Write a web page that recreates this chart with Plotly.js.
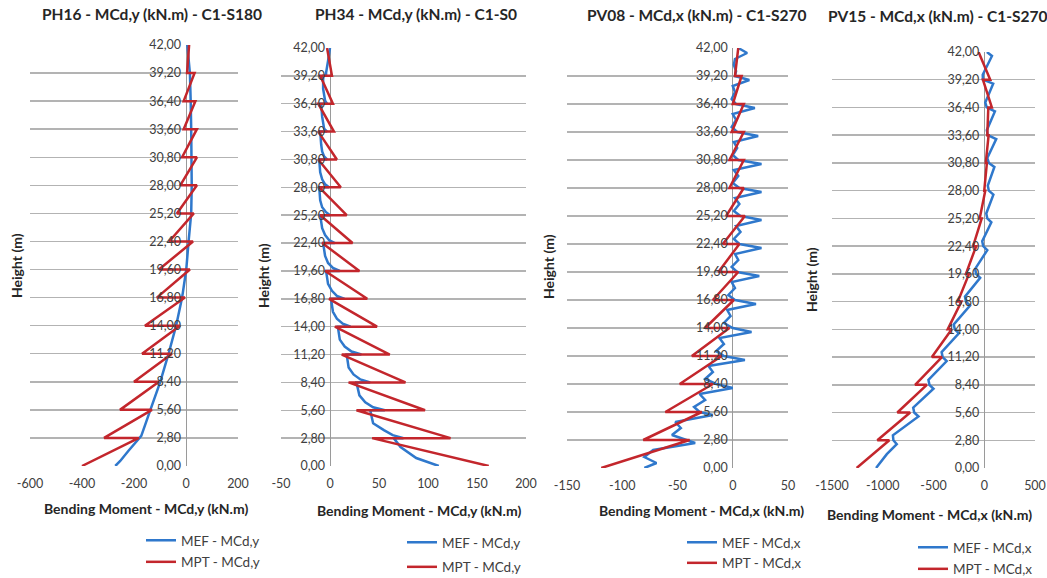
<!DOCTYPE html>
<html><head><meta charset="utf-8">
<script src="https://cdn.plot.ly/plotly-3.0.1.min.js"></script>
<style>html,body{margin:0;padding:0;background:#fff;} #chart{width:1047px;height:578px;}</style>
</head><body><div id="chart"></div>
<script>
// ---------- DATA ----------
const Y_TICKS = [0, 2.8, 5.6, 8.4, 11.2, 14, 16.8, 19.6, 22.4, 25.2, 28, 30.8, 33.6, 36.4, 39.2, 42];
const Y_LABELS = ["0,00","2,80","5,60","8,40","11,20","14,00","16,80","19,60","22,40","25,20","28,00","30,80","33,60","36,40","39,20","42,00"];
const X1_TICKS = [-600, -400, -200, 0, 200];
const X2_TICKS = [-50, 0, 50, 100, 150, 200];
const X3_TICKS = [-150, -100, -50, 0, 50];
const X4_TICKS = [-1500, -1000, -500, 0, 500];
const SERIES_Y = ["MEF - MCd,y", "MPT - MCd,y"];
const SERIES_X = ["MEF - MCd,x", "MPT - MCd,x"];

// MPT: sawtooth, two values at each floor (top of storey below, bottom of storey above)
const SAW_H = [0, 2.8, 2.8, 5.6, 5.6, 8.4, 8.4, 11.2, 11.2, 14, 14, 16.8, 16.8, 19.6, 19.6, 22.4, 22.4, 25.2, 25.2, 28, 28, 30.8, 30.8, 33.6, 33.6, 36.4, 36.4, 39.2, 39.2, 42];

const PH16_MPT = [-400, -181, -315, -131, -254, -104, -200, -54, -169, -23, -158, -4, -112, 15, -104, 27, -65, 30, -35, 42, -22, 42, -15, 42, -9, 36, -9, 33, 4, 12];
const PH16_MEF_H = [0, 0.5, 1.5, 2.6, 2.8, 3.0, 5.6, 8.4, 11.2, 14, 16.8, 19.6, 22.4, 25.2, 28, 30.8, 33.6, 36.4, 39.2, 42];
const PH16_MEF = [-272, -253, -222, -185, -176, -172, -137, -99, -67, -38, -15, 1, 10, 20, 22, 22, 20, 18, 15, 5];

const PH34_MPT = [162, 43, 123, 27, 97, 19, 77, 12, 61, 5, 48, -1, 38, -5, 30, -8, 23, -10, 17, -11, 11, -12, 7, -12, 4, -12, 3, -10, 2, -3];
const PH34_MEF_H = [0, 0.8, 1.9, 2.8,
  2.8, 3.1, 3.6, 4.3, 5.6,  5.6, 5.9, 6.4, 7.1, 8.4,  8.4, 8.7, 9.2, 9.9, 11.2,
  11.2, 11.5, 12, 12.7, 14,  14, 14.3, 14.8, 15.5, 16.8,  16.8, 17.1, 17.6, 18.3, 19.6,
  19.6, 19.9, 20.4, 21.1, 22.4,  22.4, 22.7, 23.2, 23.9, 25.2,  25.2, 25.5, 26, 26.7, 28,
  28, 28.3, 28.8, 29.5, 30.8,  30.8, 31.1, 31.6, 32.3, 33.6,  33.6, 33.9, 34.4, 35.1, 36.4,
  36.4, 36.7, 37.2, 37.9, 39.2,  39.2, 39.5, 40, 40.7, 42];
const PH34_MEF = [111, 88, 72, 65,
  75, 64, 55, 44, 41,  56, 44, 36, 30, 27,  41, 31, 24, 19, 17,
  32, 22, 15, 10, 8,  21, 13, 7, 3, 1,  15, 7, 2, -2, -4,
  10, 3, -2, -5, -7,  5, -1, -5, -8, -10,  0, -4, -8, -10, -11,
  -1, -5, -8, -10, -11,  -3, -6, -8, -9, -10,  -3, -6, -7, -8, -9,
  -3, -5, -6, -7, -7,  -4, -4, -3, -2, 0];

const PV08_MPT = [-119, -39, -81, -28, -61, -18, -48, -10, -37, -3, -25, 1, -18, 5, -13, 6, -9, 11, -6, 10, -3, 10, -3, 10, -1, 10, 0, 8, 2, 5];
const PV08_MEF_H = [0, 0.5, 1.1, 1.8, 2.5, 2.8,
  3.3, 4.0, 4.6, 5.3, 5.6,  6.1, 6.8, 7.4, 8.0, 8.4,  8.9, 9.6, 10.2, 10.8, 11.2,
  11.7, 12.4, 13.0, 13.6, 14.0,  14.5, 15.2, 15.8, 16.4, 16.8,  17.3, 18.0, 18.6, 19.2, 19.6,
  20.1, 20.8, 21.4, 22.0, 22.4,  22.9, 23.6, 24.2, 24.8, 25.2,  25.7, 26.4, 27.0, 27.6, 28.0,
  28.5, 29.2, 29.8, 30.4, 30.8,  31.3, 32.0, 32.6, 33.2, 33.6,  34.1, 34.8, 35.4, 36.0, 36.4,
  36.9, 37.6, 38.2, 38.8, 39.2,  39.7, 40.3, 40.9, 41.5, 42.0];
const PV08_MEF = [-80, -69, -80, -72, -34, -42,
  -55, -47, -52, -18, -30,  -35, -25, -30, 0, -15,  -25, -18, -22, 11, -8,
  -15, -8, -12, 17, 0,  -8, -2, -5, 21, 2,  -4, 2, -1, 24, 4,
  -1, 5, 2, 26, 6,  1, 7, 3, 26, 7,  1, 6, 2, 26, 6,
  0, 5, 1, 26, 5,  0, 4, 1, 23, 4,  -1, 3, 0, 20, 3,
  -1, 2, 0, 15, 2,  3, 1, 2, 13, 5];

const PV15_MPT = [-1257, -935, -1053, -730, -856, -566, -681, -417, -516, -320, -360, -225, -260, -150, -180, -80, -110, -25, -45, 10, 0, 26, 15, 43, 30, 40, 75, -13, 59, -56];
const PV15_MEF_H = [0, 1.4, 2.4, 2.8,
  3.3, 5.2, 5.6,  6.1, 8.0, 8.4,  8.9, 10.8, 11.2,  11.7, 13.6, 14,  14.5, 16.4, 16.8,
  17.3, 19.2, 19.6,  20.1, 22.0, 22.4,  22.9, 24.8, 25.2,  25.7, 27.6, 28,  28.5, 30.4, 30.8,
  31.3, 33.2, 33.6,  34.1, 36.0, 36.4,  36.9, 38.8, 39.2,  39.7, 41.6, 42];
const PV15_MEF = [-1066, -960, -862, -895,
  -900, -648, -690,  -700, -500, -540,  -550, -370, -410,  -420, -250, -290,  -300, -140, -180,
  -190, -40, -80,  -90, 30, -10,  -20, 70, 30,  20, 90, 45,  35, 100, 45,
  30, 118, 35,  25, 105, 25,  10, 88, -13,  -15, 76, 26];

// ---------- LAYOUT ----------
const W = 1047, H = 578;
const BLUE = '#2F78CC', RED = '#C3262C';
const FONT = 'Lato, "Open Sans", sans-serif';

const panels = [
  {title:'PH16 - MCd,y (kN.m) - C1-S180', xt:'Bending Moment - MCd,y (kN.m)', names:SERIES_Y,
   xr:[-600,200], ticks:X1_TICKS, px:[30,238], py:[466,45],
   mefH:PH16_MEF_H, mef:PH16_MEF, mpt:PH16_MPT,
   tPos:[40,14], xtPos:[42,509], htPos:[17,266], legPos:[141,525], gap:1},
  {title:'PH34 - MCd,y (kN.m) - C1-S0', xt:'Bending Moment - MCd,y (kN.m)', names:SERIES_Y,
   xr:[-50,200], ticks:X2_TICKS, px:[281,526], py:[466,48],
   mefH:PH34_MEF_H, mef:PH34_MEF, mpt:PH34_MPT,
   tPos:[313,14], xtPos:[315,510], htPos:[263,276], legPos:[402,527], gap:4},
  {title:'PV08 - MCd,x (kN.m) - C1-S270', xt:'Bending Moment - MCd,x (kN.m)', names:SERIES_X,
   xr:[-150,50], ticks:X3_TICKS, px:[567,788], py:[468,48],
   mefH:PV08_MEF_H, mef:PV08_MEF, mpt:PV08_MPT,
   tPos:[585,15], xtPos:[597,510], htPos:[548,267], legPos:[682,527], gap:0},
  {title:'PV15 - MCd,x (kN.m) - C1-S270', xt:'Bending Moment - MCd,x (kN.m)', names:SERIES_X,
   xr:[-1500,500], ticks:X4_TICKS, px:[832,1035], py:[468,52],
   mefH:PV15_MEF_H, mef:PV15_MEF, mpt:PV15_MPT,
   tPos:[826,16], xtPos:[825,514], htPos:[811,280], legPos:[913,532], gap:1}
];

const data = [];
const layout = {
  width: W, height: H, margin: {l:0, r:0, t:0, b:0, autoexpand:false},
  paper_bgcolor: '#fff', plot_bgcolor: 'rgba(0,0,0,0)',
  font: {family: FONT, color: '#404040', size: 11},
  showlegend: true, annotations: []
};

panels.forEach((p, i) => {
  const n = i + 1, sfx = n === 1 ? '' : String(n);
  const zeroPx = p.px[0] + (0 - p.xr[0]) / (p.xr[1] - p.xr[0]) * (p.px[1] - p.px[0]);
  layout['xaxis' + sfx] = {
    domain: [p.px[0] / W, p.px[1] / W], range: p.xr, anchor: 'y' + sfx,
    tickvals: p.ticks, ticktext: p.ticks.map(String), ticks: '', ticklabelstandoff: 8,
    showgrid: false, zeroline: true, zerolinecolor: '#9a9a9a', zerolinewidth: 1,
    showline: false, tickfont: {size: 12.5, color: '#404040', family: FONT}, fixedrange: true
  };
  layout['yaxis' + sfx] = {
    domain: [1 - p.py[0] / H, 1 - p.py[1] / H], range: [0, 42],
    anchor: 'free', position: zeroPx / W,
    tickvals: Y_TICKS, ticktext: Y_LABELS, ticks: '', ticklabelstandoff: 5,
    showgrid: true, gridcolor: '#b3b3b3', gridwidth: 1.5, zeroline: false, showline: false,
    tickfont: {size: 12.5, color: '#404040', family: FONT}, fixedrange: true
  };
  const leg = 'legend' + sfx;
  data.push({type:'scatter', mode:'lines', x:p.mef, y:p.mefH, xaxis:'x'+sfx, yaxis:'y'+sfx,
    name:p.names[0], legend:leg, legendgroup:'a'+n, line:{color:BLUE, width:2.5}, hoverinfo:'skip'});
  data.push({type:'scatter', mode:'lines', x:p.mpt, y:SAW_H, xaxis:'x'+sfx, yaxis:'y'+sfx,
    name:p.names[1], legend:leg, legendgroup:'b'+n, line:{color:RED, width:2.5}, hoverinfo:'skip'});
  layout[leg] = {
    x: p.legPos[0] / W, y: 1 - p.legPos[1] / H, xanchor: 'left', yanchor: 'top',
    bgcolor: 'rgba(0,0,0,0)', tracegroupgap: p.gap, itemwidth: 30,
    font: {size: 13.5, color: '#404040', family: FONT}
  };
  layout.annotations.push({xref:'paper', yref:'paper', x:p.tPos[0]/W, y:1-p.tPos[1]/H,
    xanchor:'left', yanchor:'middle', showarrow:false, text:'<b>'+p.title+'</b>',
    font:{size:15.5, color:'#262626', family:FONT}});
  layout.annotations.push({xref:'paper', yref:'paper', x:p.xtPos[0]/W, y:1-p.xtPos[1]/H,
    xanchor:'left', yanchor:'middle', showarrow:false, text:'<b>'+p.xt+'</b>',
    font:{size:14, color:'#262626', family:FONT}});
  layout.annotations.push({xref:'paper', yref:'paper', x:p.htPos[0]/W, y:1-p.htPos[1]/H,
    xanchor:'center', yanchor:'middle', showarrow:false, text:'<b>Height (m)</b>', textangle:-90,
    font:{size:14, color:'#262626', family:FONT}});
});

Plotly.newPlot('chart', data, layout, {displayModeBar:false, staticPlot:true});
</script>
</body></html>
